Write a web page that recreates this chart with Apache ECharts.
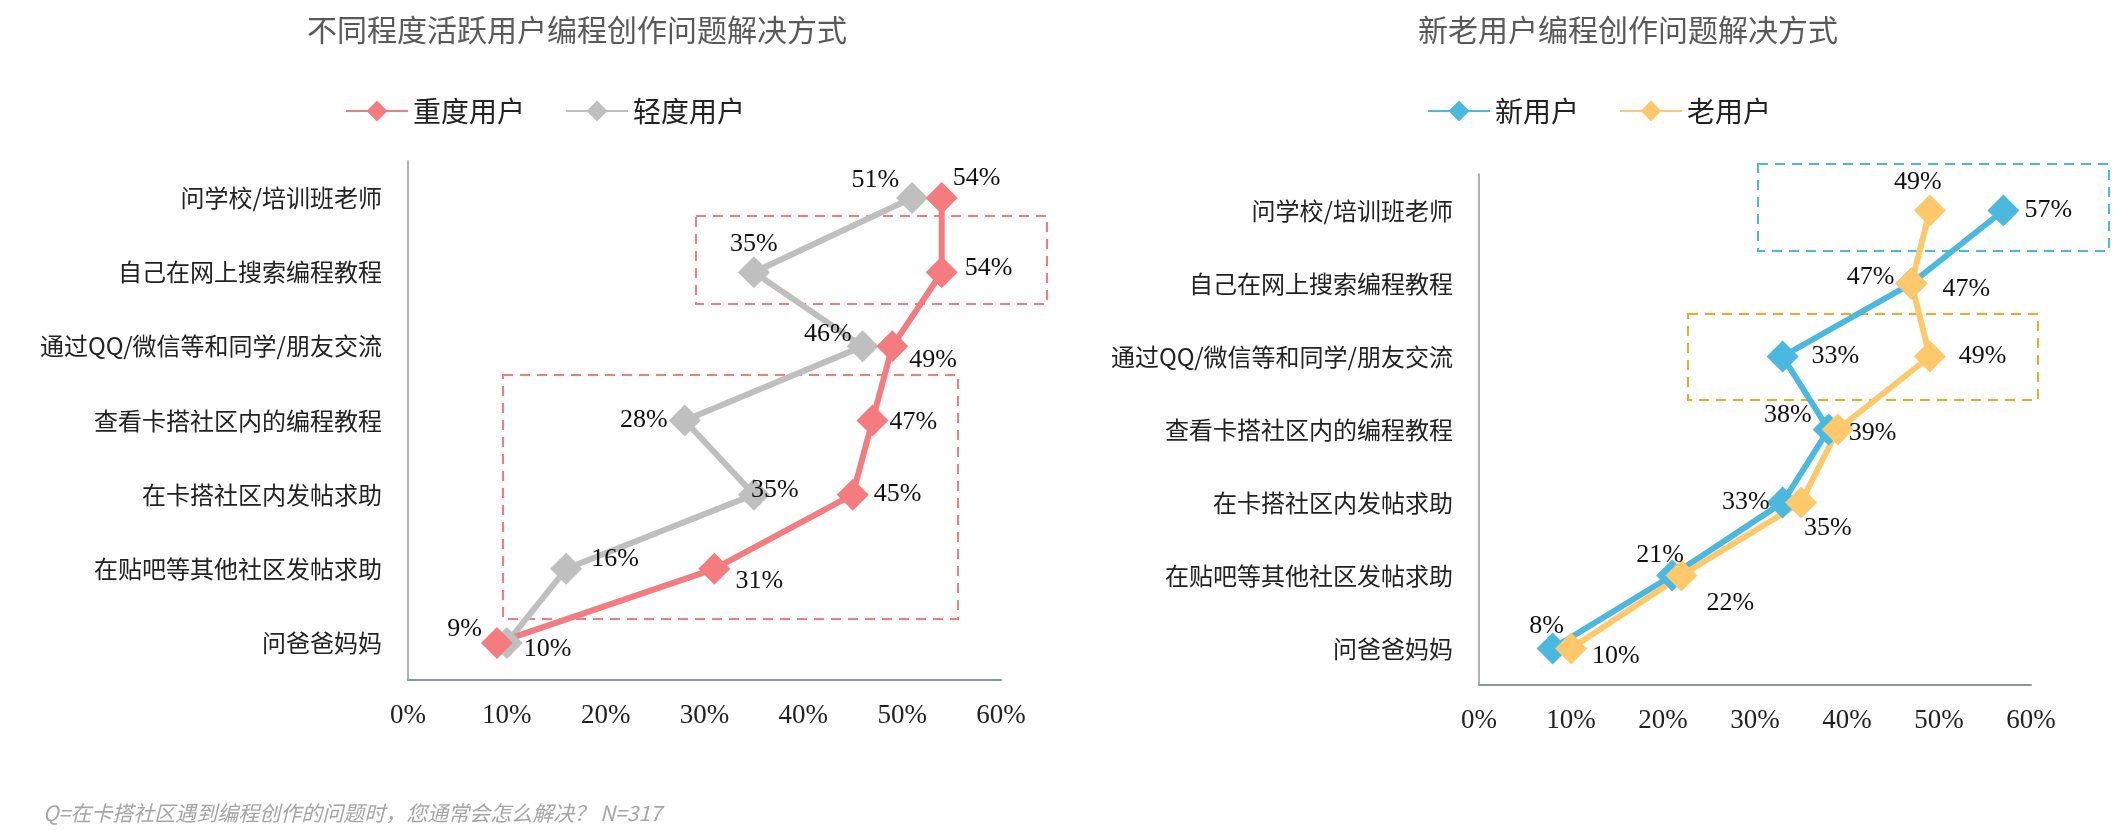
<!DOCTYPE html>
<html><head><meta charset="utf-8">
<script src="https://cdn.jsdelivr.net/npm/echarts@6/dist/echarts.min.js"></script>
<style>html,body{margin:0;background:#fff}#c{width:2128px;height:830px}</style>
</head><body><div id="c"></div>
<script>
const categories = ['问学校/培训班老师','自己在网上搜索编程教程','通过QQ/微信等和同学/朋友交流','查看卡搭社区内的编程教程','在卡搭社区内发帖求助','在贴吧等其他社区发帖求助','问爸爸妈妈'];
const heavyUsers = [54,54,49,47,45,31,9];
const lightUsers = [51,35,46,28,35,16,10];
const newUsers = [57,47,33,38,33,21,8];
const oldUsers = [49,47,49,39,35,22,10];
const xTicks = [0,10,20,30,40,50,60];

const heavyPos = [['right',[-10,-20]],['right',[2,-4]],['right',[-4,14]],['right',[-4,2]],['right',[0,0]],['right',[0,12]],['left',[6,-14]]];
const lightPos = [['left',[8,-18]],['top',[0,6]],['left',[10,-12]],['left',[4,0]],['right',[-24,-4]],['right',[4,-10]],['right',[-4,6]]];
const newPos = [['right',[0,0]],['left',[4,-6]],['right',[8,0]],['left',[4,-14]],['left',[8,0]],['top',[-12,14]],['top',[-6,12]]];
const oldPos = [['top',[-12,6]],['right',[10,6]],['right',[8,0]],['right',[-10,4]],['right',[-18,26]],['right',[4,28]],['right',[0,8]]];

function items(vals,pos){return vals.map((v,i)=>({value:v,label:{position:pos[i][0],offset:pos[i][1]}}));}
const lblStyle={show:true,formatter:p=>p.value+'%',fontFamily:'Liberation Serif',fontSize:26,color:'#111'};
function series(name,vals,pos,color,xi){return {name,type:'line',xAxisIndex:xi,yAxisIndex:xi,data:items(vals,pos),symbol:'diamond',symbolSize:32,
 lineStyle:{width:6,color},itemStyle:{color},label:lblStyle,z:xi};}

const catFont={fontFamily:'Noto Sans CJK SC',fontSize:24,color:'#222'};
function xAx(gi){return {type:'value',gridIndex:gi,min:0,max:60,interval:10,axisLine:{show:true,lineStyle:{color:'#8a96a8',width:2}},axisTick:{show:false},splitLine:{show:false},
 axisLabel:{formatter:v=>v+'%',fontFamily:'Liberation Serif',fontSize:27,color:'#222',margin:22}};}
function yAx(gi){return {type:'category',gridIndex:gi,data:categories,inverse:true,axisLine:{lineStyle:{color:'#999',width:1.5}},
 axisTick:{inside:true,length:10,lineStyle:{color:'#999'}},axisLabel:Object.assign({margin:26},catFont)};}

const chart=echarts.init(document.getElementById('c'));
chart.setOption({
 backgroundColor:'#fff',
 title:[{text:'不同程度活跃用户编程创作问题解决方式',left:572,top:10,textAlign:'center',textStyle:{fontFamily:'Noto Sans CJK SC',fontSize:30,fontWeight:'normal',color:'#595959'}},
        {text:'新老用户编程创作问题解决方式',left:1623,top:10,textAlign:'center',textStyle:{fontFamily:'Noto Sans CJK SC',fontSize:30,fontWeight:'normal',color:'#595959'}},
        {text:'Q=在卡搭社区遇到编程创作的问题时，您通常会怎么解决？ N=317',left:38,top:798,textStyle:{fontFamily:'Noto Sans CJK SC',fontSize:21,fontStyle:'italic',fontWeight:'normal',color:'#a6a6a6'}}],
 legend:[{data:['重度用户','轻度用户'],left:340,top:92,itemWidth:62,itemHeight:26,itemGap:40,textStyle:{fontFamily:'Noto Sans CJK SC',fontSize:28,color:'#222'}},
         {data:['新用户','老用户'],left:1422,top:92,itemWidth:62,itemHeight:26,itemGap:40,textStyle:{fontFamily:'Noto Sans CJK SC',fontSize:28,color:'#222'}}],
 grid:[{left:408,right:1127,top:161,bottom:150},{left:1479,right:97,top:174,bottom:145}],
 xAxis:[xAx(0),xAx(1)],yAxis:[yAx(0),yAx(1)],
 series:[series('轻度用户',lightUsers,lightPos,'#BFBFBF',0),series('重度用户',heavyUsers,heavyPos,'#F47C7E',0),
         series('新用户',newUsers,newPos,'#4BB8DF',1),series('老用户',oldUsers,oldPos,'#FFC96B',1)],
 graphic:[
  {type:'rect',shape:{x:696,y:216,width:351,height:88},style:{fill:'none',stroke:'#F47C7E',lineWidth:2,lineDash:[10,7]}},
  {type:'rect',shape:{x:503,y:375,width:455,height:244},style:{fill:'none',stroke:'#F47C7E',lineWidth:2,lineDash:[10,7]}},
  {type:'rect',shape:{x:1758,y:164,width:351,height:87},style:{fill:'none',stroke:'#4BB8DF',lineWidth:2,lineDash:[10,7]}},
  {type:'rect',shape:{x:1688,y:314,width:350,height:86},style:{fill:'none',stroke:'#F5A623',lineWidth:2,lineDash:[10,7]}}
 ]
});
</script></body></html>
